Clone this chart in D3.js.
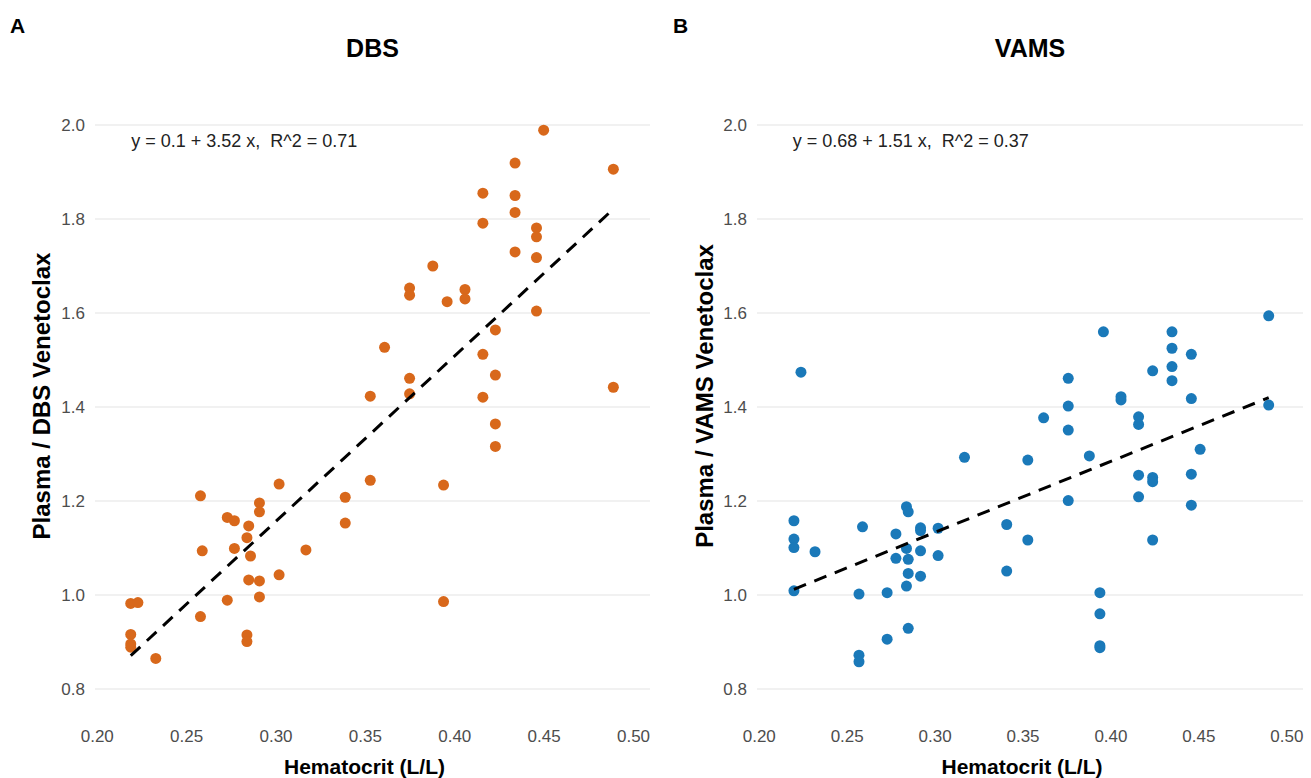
<!DOCTYPE html>
<html>
<head>
<meta charset="utf-8">
<script src="https://cdn.jsdelivr.net/npm/d3@7"></script>
<style>
  html, body { margin: 0; padding: 0; background: #ffffff; }
  svg { display: block; font-family: "Liberation Sans", Arial, sans-serif; }
</style>
</head>
<body>
<svg id="chart" width="1311" height="778"></svg>
<script>
// ---------- DATA ----------
const panelLetters = ["A", "B"];
const panelTitles = ["DBS", "VAMS"];
const yTitles = ["Plasma / DBS Venetoclax", "Plasma / VAMS Venetoclax"];
const xTitle = "Hematocrit (L/L)";
const xTicks = [0.20, 0.25, 0.30, 0.35, 0.40, 0.45, 0.50];
const yTicks = [0.8, 1.0, 1.2, 1.4, 1.6, 1.8, 2.0];
const equations = ["y = 0.1 + 3.52 x,  R^2 = 0.71", "y = 0.68 + 1.51 x,  R^2 = 0.37"];
const intercepts = [0.1, 0.68];
const slopes = [3.52, 1.51];

const dbsHct = [0.219,0.223,0.219,0.219,0.219,0.233,0.258,0.259,0.258,0.273,0.277,0.277,0.273,0.285,0.284,0.286,0.285,0.284,0.284,0.291,0.291,0.291,0.291,0.302,0.302,0.317,0.339,0.339,
  0.450,0.434,0.489,0.416,0.434,0.434,0.416,0.446,0.446,0.434,0.446,0.388,0.375,0.375,0.396,0.406,0.406,0.446,0.423,0.361,0.416,0.423,0.375,0.353,0.375,0.416,0.489,0.423,0.423,0.353,0.394,0.394];
const dbsRatio = [0.982,0.984,0.916,0.896,0.889,0.865,1.211,1.094,0.954,1.165,1.158,1.099,0.989,1.147,1.122,1.083,1.032,0.915,0.901,1.196,1.177,1.030,0.996,1.236,1.043,1.096,1.208,1.153,
  1.989,1.919,1.906,1.855,1.850,1.814,1.791,1.781,1.762,1.730,1.718,1.700,1.653,1.638,1.624,1.650,1.630,1.604,1.564,1.527,1.512,1.468,1.461,1.423,1.428,1.421,1.442,1.364,1.316,1.244,1.234,0.986];

const vamsHct = [0.224,0.220,0.220,0.220,0.220,0.232,0.259,0.257,0.257,0.257,0.273,0.273,0.278,0.278,0.284,0.285,0.284,0.285,0.285,0.284,0.285,0.292,0.292,0.292,0.292,0.302,0.302,0.317,
  0.490,0.490,0.396,0.435,0.435,0.435,0.435,0.446,0.446,0.424,0.376,0.376,0.376,0.376,0.362,0.406,0.406,0.416,0.416,0.451,0.353,0.388,0.416,0.424,0.424,0.446,0.416,0.446,0.341,0.353,0.424,0.341,0.394,0.394,0.394,0.394];
const vamsRatio = [1.474,1.158,1.119,1.101,1.009,1.092,1.145,1.002,0.872,0.858,1.005,0.906,1.130,1.078,1.188,1.177,1.099,1.076,1.046,1.019,0.929,1.143,1.137,1.094,1.040,1.142,1.084,1.293,
  1.594,1.404,1.560,1.560,1.525,1.486,1.456,1.512,1.418,1.477,1.461,1.402,1.351,1.201,1.377,1.422,1.415,1.379,1.363,1.310,1.287,1.296,1.255,1.250,1.241,1.257,1.209,1.191,1.150,1.117,1.117,1.051,1.005,0.960,0.892,0.888];

const seriesHct = [dbsHct, vamsHct];
const seriesRatio = [dbsRatio, vamsRatio];
const pointColors = ["#d8681b", "#1a79b9"];

// ---------- LAYOUT ----------
const svg = d3.select("#chart");
const panels = [
  { left: 95, right: 650, letterX: 10, yTitleX: 50 },
  { left: 757, right: 1303, letterX: 673, yTitleX: 713 }
];
const plotTop = 125, plotBottom = 689;
const xDomain = [0.199, 0.5095];
const FONT = "'Liberation Sans', Arial, sans-serif";

panels.forEach((p, i) => {
  const x = d3.scaleLinear().domain(xDomain).range([p.left, p.right]);
  const y = d3.scaleLinear().domain([0.8, 2.0]).range([plotBottom, plotTop]);
  const g = svg.append("g");

  // grid lines
  g.selectAll("line.grid").data(yTicks).enter().append("line")
    .attr("class", "grid")
    .attr("x1", p.left).attr("x2", p.right)
    .attr("y1", d => y(d)).attr("y2", d => y(d))
    .attr("stroke", "#e4e4e4").attr("stroke-width", 1.1);

  // y axis (labels only)
  const yAxis = d3.axisLeft(y).tickValues(yTicks).tickFormat(d3.format(".1f")).tickSize(0).tickPadding(10);
  const ya = g.append("g").attr("transform", `translate(${p.left},0)`).call(yAxis);
  ya.select(".domain").remove();
  ya.selectAll("text").attr("fill", "#4d4d4d").style("font-size", "17px").style("font-family", FONT);

  // x axis (labels only)
  const xAxis = d3.axisBottom(x).tickValues(xTicks).tickFormat(d3.format(".2f")).tickSize(0).tickPadding(0);
  const xa = g.append("g").attr("transform", `translate(0,730)`).call(xAxis);
  xa.select(".domain").remove();
  xa.selectAll("text").attr("fill", "#4d4d4d").style("font-size", "17px").style("font-family", FONT);

  // points
  const pts = seriesHct[i].map((h, k) => ({ h: h, r: seriesRatio[i][k] }));
  g.selectAll("circle").data(pts).enter().append("circle")
    .attr("cx", d => x(d.h)).attr("cy", d => y(d.r)).attr("r", 5.5)
    .attr("fill", pointColors[i]);

  // regression line
  const ext = d3.extent(seriesHct[i]);
  const linePts = ext.map(h => ({ h: h, r: intercepts[i] + slopes[i] * h }));
  g.append("path").datum(linePts)
    .attr("d", d3.line().x(d => x(d.h)).y(d => y(d.r)))
    .attr("fill", "none").attr("stroke", "#000").attr("stroke-width", 3)
    .attr("stroke-dasharray", "13,9");

  // equation label
  g.append("text").attr("x", x(0.2193)).attr("y", 147)
    .attr("fill", "#222").style("font-size", "18px").style("white-space", "pre")
    .text(equations[i]);

  // panel title
  g.append("text").attr("x", (p.left + p.right) / 2).attr("y", 57)
    .attr("text-anchor", "middle").style("font-size", "25px").style("font-weight", "bold")
    .attr("fill", "#000").text(panelTitles[i]);

  // panel letter
  g.append("text").attr("x", p.letterX).attr("y", 33)
    .style("font-size", "21px").style("font-weight", "bold").attr("fill", "#000")
    .text(panelLetters[i]);

  // x title
  g.append("text").attr("x", (p.left + p.right) / 2 - 8).attr("y", 774)
    .attr("text-anchor", "middle").style("font-size", "21px").style("font-weight", "bold")
    .attr("fill", "#000").text(xTitle);

  // y title
  g.append("text")
    .attr("transform", `translate(${p.yTitleX},${396}) rotate(-90)`)
    .attr("text-anchor", "middle").style("font-size", "24px").style("font-weight", "bold")
    .attr("fill", "#000").text(yTitles[i]);
});
</script>
</body>
</html>
